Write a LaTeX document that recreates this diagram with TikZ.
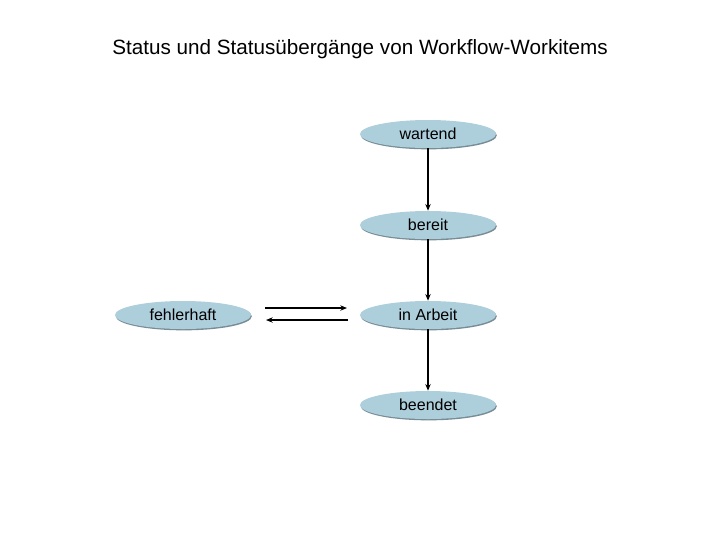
\documentclass[tikz,border=0pt]{standalone}
\usepackage{fontspec}
\setmainfont{Liberation Sans}
\usetikzlibrary{shapes.geometric,arrows.meta,shadows}
\begin{document}
\begin{tikzpicture}[x=0.75pt,y=-0.75pt,
  st/.style={ellipse,fill=cyan!10!blue!5!gray!20!cyan!25!white,fill={rgb,255:red,173;green,206;blue,219},minimum width=102pt,minimum height=21pt,inner sep=0pt,font=\fontsize{12}{14}\selectfont,drop shadow={shadow xshift=0.6pt,shadow yshift=-1pt,fill={rgb,255:red,120;green,140;blue,150},opacity=1}},
  ar/.style={-{Stealth[length=5pt,width=4pt]},line width=0.9pt}]
\useasboundingbox (0,0) rectangle (720,540);
\node[font=\fontsize{15.5}{18}\selectfont] (t) at (360,49) {Status und Statusübergänge von Workflow-Workitems};
\node[st] (w) at (428,134) {wartend};
\node[st] (b) at (428,225) {bereit};
\node[st] (a) at (428,315) {in Arbeit};
\node[st] (e) at (428,405) {beendet};
\node[st] (f) at (183,315) {fehlerhaft};
\draw[ar] (w) -- (b);
\draw[ar] (b) -- (a);
\draw[ar] (a) -- (e);
\coordinate (p1) at (265,308); \coordinate (p2) at (347,308);
\coordinate (q1) at (348,320); \coordinate (q2) at (266,320);
\draw[ar] (p1) -- (p2);
\draw[ar] (q1) -- (q2);
\end{tikzpicture}
\end{document}
